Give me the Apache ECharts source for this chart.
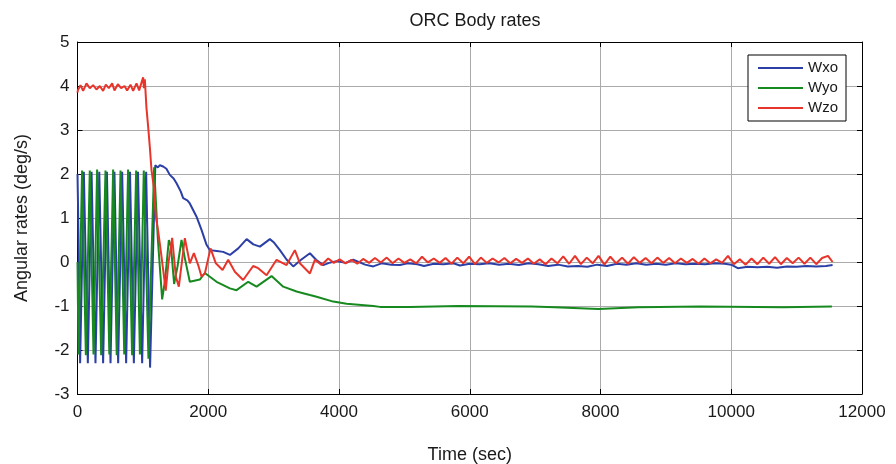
<!DOCTYPE html>
<html>
<head>
<meta charset="utf-8">
<script src="https://cdn.jsdelivr.net/npm/echarts@6/dist/echarts.min.js"></script>
<style>
  html, body { margin: 0; padding: 0; background: #fff; }
  #chart { width: 896px; height: 464px; }
</style>
</head>
<body>
<div id="chart"></div>
<script>
// series names and axis ticks
var seriesNames = ['Wxo', 'Wyo', 'Wzo'];
var xTicks = [0, 2000, 4000, 6000, 8000, 10000, 12000];
var yTicks = [-3, -2, -1, 0, 1, 2, 3, 4, 5];

// [time (sec), rate (deg/s)]
var wxo = [
  [0, 2.0], [8, 1.3], [40, -2.3], [97, 2.05], [158, -2.3], [215, 2.05], [275, -2.3], [333, 2.05],
  [392, -2.3], [450, 2.05], [505, -2.3], [565, 2.05], [622, -2.3], [683, 2.05], [744, -2.3],
  [803, 2.05], [862, -2.3], [925, 2.05], [989, -2.3], [1050, 2.05], [1110, -2.4], [1190, 2.2],
  [1230, 2.15], [1260, 2.2], [1310, 2.17], [1360, 2.12], [1412, 1.98], [1470, 1.9], [1515, 1.79],
  [1580, 1.6], [1616, 1.45], [1680, 1.4], [1718, 1.33], [1821, 1.03], [1897, 0.73], [1974, 0.39],
  [2025, 0.27], [2130, 0.25], [2229, 0.23], [2331, 0.16], [2459, 0.31], [2587, 0.52], [2690, 0.4],
  [2790, 0.35], [2943, 0.52], [3000, 0.45], [3096, 0.27], [3200, 0.05], [3300, -0.1], [3420, 0.05],
  [3555, 0.2], [3650, 0.05], [3758, -0.07], [3850, -0.02], [3963, 0.02], [4100, -0.02], [4218, 0.05],
  [4400, -0.06], [4524, -0.1], [4650, -0.03], [4800, -0.06], [4932, -0.07], [5050, -0.03],
  [5200, -0.05], [5300, -0.09], [5450, -0.04], [5600, -0.05], [5750, -0.03], [5850, -0.08],
  [6000, -0.04], [6150, -0.05], [6300, -0.03], [6450, -0.06], [6600, -0.04], [6750, -0.07],
  [6900, -0.03], [7050, -0.05], [7200, -0.09], [7350, -0.06], [7500, -0.1], [7650, -0.09],
  [7800, -0.11], [7950, -0.06], [8100, -0.09], [8250, -0.04], [8400, -0.06], [8550, -0.03],
  [8700, -0.06], [8850, -0.04], [9000, -0.06], [9150, -0.03], [9300, -0.05], [9450, -0.04],
  [9600, -0.05], [9750, -0.03], [9900, -0.04], [10000, -0.06], [10100, -0.14], [10250, -0.11],
  [10400, -0.12], [10550, -0.11], [10700, -0.13], [10850, -0.1], [11000, -0.11], [11150, -0.09],
  [11300, -0.1], [11450, -0.09], [11550, -0.07]
];

var wyo = [
  [0, 0], [15, -2.1], [70, 2.08], [128, -2.12], [188, 2.08], [245, -2.1], [300, 2.1], [362, -2.12],
  [428, 2.08], [487, -2.1], [545, 2.1], [600, -2.12], [658, 2.08], [715, -2.1], [774, 2.1],
  [835, -2.12], [897, 2.08], [955, -2.1], [1014, 2.08], [1085, -2.2], [1172, 2.15], [1230, 0.5],
  [1295, -0.85], [1340, -0.4], [1397, 0.5], [1430, 0.35], [1478, -0.5], [1530, -0.1], [1591, 0.5],
  [1640, 0.1], [1718, -0.45], [1871, -0.4], [1948, -0.25], [2127, -0.45], [2331, -0.6], [2433, -0.64],
  [2611, -0.45], [2739, -0.56], [2968, -0.32], [3147, -0.56], [3351, -0.67], [3480, -0.72],
  [3555, -0.75], [3657, -0.79], [3912, -0.9], [4116, -0.95], [4524, -1.0], [4626, -1.02],
  [5085, -1.02], [5100, -1.0], [5825, -1.0], [5840, -1.01], [6947, -1.01], [6960, -1.03],
  [7304, -1.03], [7320, -1.07], [7968, -1.07], [7980, -1.03], [8580, -1.03], [8600, -1.01],
  [9524, -1.01], [9540, -1.03], [10800, -1.03], [10820, -1.01], [11540, -1.01]
];

var wzo = [
  [0, 3.85], [5, 3.9], [46, 4.02], [86, 3.89], [138, 4.06], [188, 3.95], [239, 4.02], [290, 3.92],
  [341, 4.0], [392, 3.89], [433, 4.03], [479, 3.95], [530, 4.06], [566, 3.9], [617, 4.04], [668, 3.95],
  [719, 4.0], [759, 3.9], [811, 4.03], [851, 3.89], [903, 4.06], [943, 3.9], [979, 4.08], [1004, 4.2],
  [1015, 3.95], [1030, 4.15], [1055, 3.5], [1081, 3.07], [1106, 2.62], [1132, 2.09], [1167, 1.71],
  [1198, 1.03], [1234, 0.7], [1285, 0.12], [1350, -0.65], [1390, -0.03], [1448, 0.55], [1504, -0.33],
  [1550, -0.56], [1642, 0.54], [1718, -0.03], [1780, 0.2], [1846, -0.07], [1897, -0.33], [1948, -0.26],
  [2035, 0.31], [2116, -0.03], [2219, -0.18], [2305, 0.05], [2407, -0.22], [2534, -0.41], [2687, -0.09],
  [2764, -0.14], [2892, -0.3], [3045, 0.05], [3198, -0.07], [3325, 0.27], [3402, -0.03], [3555, -0.26],
  [3631, 0.05], [3733, -0.07], [3835, 0.08], [3920, -0.02], [4010, 0.06], [4100, -0.03], [4190, 0.05],
  [4280, -0.04], [4370, 0.07], [4460, -0.02], [4550, 0.09], [4640, -0.01], [4730, 0.1], [4820, -0.03],
  [4910, 0.08], [5000, -0.02], [5090, 0.06], [5180, -0.03], [5270, 0.12], [5360, -0.01], [5450, 0.08],
  [5540, -0.02], [5630, 0.09], [5720, -0.04], [5810, 0.1], [5900, -0.03], [5990, 0.12], [6080, -0.05],
  [6170, 0.1], [6260, -0.02], [6350, 0.08], [6440, -0.01], [6530, 0.09], [6620, -0.03], [6710, 0.07],
  [6800, -0.02], [6890, 0.08], [6980, -0.04], [7070, 0.06], [7160, -0.05], [7250, 0.08], [7340, -0.03],
  [7430, 0.13], [7520, -0.04], [7610, 0.14], [7700, -0.05], [7790, 0.1], [7880, -0.03], [7970, 0.14],
  [8060, -0.06], [8150, 0.12], [8240, -0.03], [8330, 0.1], [8420, -0.04], [8510, 0.11], [8600, -0.02],
  [8690, 0.09], [8780, -0.03], [8870, 0.1], [8960, -0.02], [9050, 0.09], [9140, -0.03], [9230, 0.08],
  [9320, -0.02], [9410, 0.07], [9500, -0.04], [9590, 0.08], [9680, -0.03], [9770, 0.06], [9860, -0.02],
  [9950, 0.14], [10040, -0.05], [10130, 0.06], [10220, -0.06], [10310, 0.08], [10400, -0.05],
  [10490, 0.1], [10580, -0.04], [10670, 0.11], [10760, -0.05], [10850, 0.09], [10940, -0.03],
  [11030, 0.1], [11120, -0.04], [11210, 0.1], [11300, -0.05], [11390, 0.09], [11480, 0.14], [11550, 0.0]
];

var colors = ['#2B3FA6', '#168A1F', '#E8352B'];
var font = 'Liberation Sans, Arial, sans-serif';

var myChart = echarts.init(document.getElementById('chart'));

function sideAxis (pos, lo, hi, step) {
  return {
    type: 'value', position: pos, min: lo, max: hi, interval: step,
    axisLine: { show: true, onZero: false, lineStyle: { color: '#000', width: 1 } },
    axisTick: { show: true, inside: true, length: 5, lineStyle: { color: '#000' } },
    axisLabel: { show: false },
    splitLine: { show: false }
  };
}

var option = {
  animation: false,
  backgroundColor: '#fff',
  color: colors,
  title: {
    text: 'ORC Body rates',
    left: 470,
    textAlign: 'center',
    top: 7,
    textStyle: { fontFamily: font, fontSize: 18, fontWeight: 'normal', color: '#1a1a1a' }
  },
  legend: {
    data: seriesNames,
    orient: 'vertical',
    left: 748,
    top: 55,
    icon: 'rect',
    itemWidth: 45,
    itemHeight: 2,
    itemGap: 4,
    padding: [5, 8, 5, 10],
    borderColor: '#000',
    borderWidth: 1,
    backgroundColor: '#fff',
    textStyle: { fontFamily: font, fontSize: 15, color: '#1a1a1a', lineHeight: 16 }
  },
  grid: { left: 77.5, right: 34, top: 42, bottom: 70, containLabel: false, outerBoundsMode: 'none' },
  xAxis: [{
    type: 'value', position: 'bottom', min: 0, max: 12000, interval: 2000,
    name: 'Time (sec)', nameLocation: 'middle', nameGap: 52,
    nameTextStyle: { fontFamily: font, fontSize: 18, color: '#1a1a1a' },
    axisLine: { show: true, onZero: false, lineStyle: { color: '#000', width: 1 } },
    axisTick: { show: true, inside: true, length: 5, lineStyle: { color: '#000' } },
    axisLabel: {
      fontFamily: font, fontSize: 17, color: '#1a1a1a', margin: 10,
      formatter: function (v) { return String(v); }
    },
    splitLine: { show: true, lineStyle: { color: '#aaa', width: 1 } }
  }, sideAxis('top', 0, 12000, 2000)],
  yAxis: [{
    type: 'value', position: 'left', min: -3, max: 5, interval: 1,
    name: 'Angular rates (deg/s)', nameLocation: 'middle', nameGap: 46,
    nameTextStyle: { fontFamily: font, fontSize: 18, color: '#1a1a1a' },
    axisLine: { show: true, onZero: false, lineStyle: { color: '#000', width: 1 } },
    axisTick: { show: true, inside: true, length: 5, lineStyle: { color: '#000' } },
    axisLabel: { fontFamily: font, fontSize: 17, color: '#1a1a1a', margin: 8 },
    splitLine: { show: true, lineStyle: { color: '#aaa', width: 1 } }
  }, sideAxis('right', -3, 5, 1)],
  series: [
    { name: 'Wxo', type: 'line', data: wxo, symbol: 'none', z: 3, lineStyle: { width: 2, color: colors[0] }, itemStyle: { color: colors[0] } },
    { name: 'Wyo', type: 'line', data: wyo, symbol: 'none', z: 4, lineStyle: { width: 2, color: colors[1] }, itemStyle: { color: colors[1] } },
    { name: 'Wzo', type: 'line', data: wzo, symbol: 'none', z: 5, lineStyle: { width: 2, color: colors[2] }, itemStyle: { color: colors[2] } }
  ]
};
myChart.setOption(option);
</script>
</body>
</html>
